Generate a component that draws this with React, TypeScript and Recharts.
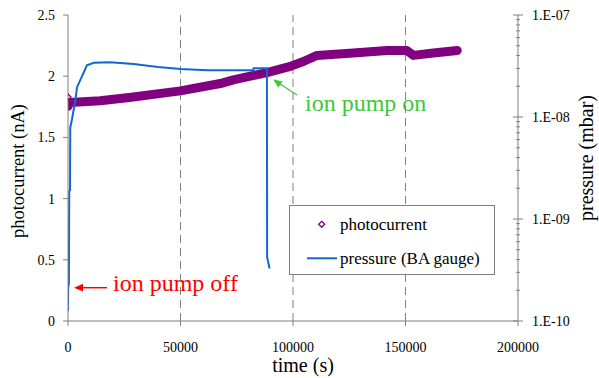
import React from 'react';
import {
  ComposedChart, Line, Scatter, XAxis, YAxis, ReferenceLine, Legend, Customized,
} from 'recharts';

// ---- data ----
const pressureTimes = [0, 100, 400, 550, 900, 1000, 1780, 3240, 4000, 5500, 7000, 8400, 11500, 18600, 29200, 40000, 50000, 61800, 82400, 82500, 88400, 88500, 89600];
const pressureValues = [1.25e-10, 2.17e-10, 2.29e-10, 1.87e-9, 1.92e-9, 7.9e-9, 9.5e-9, 1.45e-8, 1.96e-8, 2.31e-8, 2.73e-8, 3.22e-8, 3.4e-8, 3.45e-8, 3.31e-8, 3.1e-8, 2.96e-8, 2.88e-8, 2.88e-8, 3.01e-8, 3.01e-8, 4.2e-10, 3.27e-10];

const photoTimes = [0, 800, 14350, 29000, 49900, 67700, 73500, 88400, 98800, 104600, 110700, 126800, 141800, 150600, 153500, 162400, 173000];
const photoValues = [1.755, 1.785, 1.8, 1.83, 1.88, 1.94, 1.97, 2.03, 2.08, 2.12, 2.17, 2.19, 2.21, 2.21, 2.17, 2.19, 2.21];

const photoMarkerTimes = [0];
const photoMarkerValues = [1.83];

const timeTicks = [0, 50000, 100000, 150000, 200000];
const gridTimes = [50000, 100000, 150000];
const photoTicks = [0, 0.5, 1, 1.5, 2, 2.5];
const pressureMajorTicks = [1e-10, 1e-9, 1e-8, 1e-7];
const pressureMinorMultipliers = [2, 3, 4, 5, 6, 7, 8, 9];

const pressureData = pressureTimes.map((t, i) => ({ t, p: pressureValues[i] }));
const photoData = photoTimes.map((t, i) => ({ t, v: photoValues[i] }));
const photoMarkers = photoMarkerTimes.map((t, i) => ({ t, v: photoMarkerValues[i] }));
const pressureTicks = [
  ...pressureMajorTicks,
  ...pressureMajorTicks.slice(0, -1).flatMap((d) => pressureMinorMultipliers.map((m) => m * d)),
].sort((a, b) => a - b);

const FONT = "'Times New Roman', Times, 'Liberation Serif', 'DejaVu Serif', serif";
const AXIS = '#808080';
const PURPLE = '#800080';
const BLUE = '#1069D2';
const RED = '#FF0000';
const GREEN = '#3CC83C';

const isMajor = (v: number) => pressureMajorTicks.some((m) => Math.abs(v - m) / m < 1e-6);
const fmtExp = (v: number) => {
  const e = Math.round(Math.log10(v));
  return `1.E${e < 0 ? '-' : '+'}${String(Math.abs(e)).padStart(2, '0')}`;
};

const txt = (size: number, fill = '#000') => ({ fontFamily: FONT, fontSize: size, fill });

const RightTick = (props: any) => {
  const { x, y, payload } = props;
  const v = payload.value;
  const major = isMajor(v);
  const len = major ? 5 : 2;
  return (
    <g>
      <line x1={x - len} x2={x + len} y1={y} y2={y} stroke={AXIS} strokeWidth={1} />
      {major && (
        <text x={x + 14} y={y} dy="0.35em" style={txt(14)} textAnchor="start">
          {fmtExp(v)}
        </text>
      )}
    </g>
  );
};

const Diamond = (props: any) => {
  const { cx, cy } = props;
  if (cx == null || cy == null) return null;
  const s = 3;
  return (
    <polygon
      points={`${cx},${cy - s} ${cx + s},${cy} ${cx},${cy + s} ${cx - s},${cy}`}
      fill="none"
      stroke={PURPLE}
      strokeWidth={1.3}
    />
  );
};

const Annotations = () => (
  <g>
    <text x={24} y={171} transform="rotate(-90, 24, 171)" textAnchor="middle" style={txt(18.5)}>
      photocurrent (nA)
    </text>
    <text x={593} y={158} transform="rotate(-90, 593, 158)" textAnchor="middle" style={txt(20)}>
      pressure (mbar)
    </text>
    <text x={303} y={372} textAnchor="middle" style={txt(20)}>
      time (s)
    </text>
    <line x1={107} y1={287.7} x2={80} y2={287.7} stroke={RED} strokeWidth={1.5} />
    <polygon points="74,287.7 83,283.8 83,291.6" fill={RED} />
    <text x={113} y={291} style={txt(24, RED)}>ion pump off</text>
    <line x1={297} y1={95} x2={277} y2={82} stroke={GREEN} strokeWidth={1.2} />
    <polygon points="273,79.3 282.5,81.5 278.3,87.5" fill={GREEN} />
    <text x={305} y={110.5} style={txt(24, GREEN)}>ion pump on</text>
  </g>
);

const LegendBox = () => (
  <div style={{ width: 206, height: 70, border: `1px solid ${AXIS}`, background: '#fff', boxSizing: 'border-box' }}>
    <svg width={204} height={68} style={{ display: 'block' }}>
      <polygon points="31.7,15.3 34.7,18.3 31.7,21.3 28.7,18.3" fill="none" stroke={PURPLE} strokeWidth={1.3} />
      <text x={50} y={24} style={txt(17)}>photocurrent</text>
      <line x1={17} x2={47} y1={52.3} y2={52.3} stroke={BLUE} strokeWidth={2} />
      <text x={50} y={57.5} style={txt(17)}>pressure (BA gauge)</text>
    </svg>
  </div>
);

export default function App() {
  return (
    <div style={{ position: 'absolute', left: 0, top: 0, width: 599, height: 378, background: '#fff', fontFamily: FONT }}>
      <ComposedChart width={599} height={378} margin={{ top: 15, right: 11, bottom: 17, left: 8 }} style={{ fontFamily: FONT }}>
        <XAxis
          dataKey="t"
          type="number"
          domain={[0, 200000]}
          ticks={timeTicks}
          interval={0}
          allowDataOverflow
          stroke={AXIS}
          tickSize={5}
          tickMargin={16}
          height={40}
          tick={{ fill: '#000', fontFamily: FONT, fontSize: 14, style: { fontFamily: FONT } }}
        />
        <YAxis
          yAxisId="left"
          orientation="left"
          type="number"
          domain={[0, 2.5]}
          ticks={photoTicks}
          interval={0}
          width={60}
          stroke={AXIS}
          tickSize={5}
          tickMargin={8}
          tick={{ fill: '#000', fontFamily: FONT, fontSize: 14, style: { fontFamily: FONT } }}
        />
        <YAxis
          yAxisId="right"
          orientation="right"
          type="number"
          scale="log"
          domain={[1e-10, 1e-7]}
          allowDataOverflow
          ticks={pressureTicks}
          interval={0}
          width={70}
          stroke={AXIS}
          tickLine={false}
          tickSize={0}
          tickMargin={0}
          tick={<RightTick />}
        />
        {gridTimes.map((t) => (
          <ReferenceLine key={t} x={t} yAxisId="left" stroke={AXIS} strokeDasharray="8 5" strokeWidth={1} />
        ))}
        <Line
          yAxisId="left"
          data={photoData}
          dataKey="v"
          type="linear"
          stroke={PURPLE}
          strokeWidth={9}
          strokeLinecap="round"
          strokeLinejoin="round"
          dot={false}
          isAnimationActive={false}
          name="photocurrent"
        />
        <Scatter
          yAxisId="left"
          data={photoMarkers}
          dataKey="v"
          shape={<Diamond />}
          isAnimationActive={false}
          name="photocurrent markers"
          legendType="none"
        />
        <Line
          yAxisId="right"
          data={pressureData}
          dataKey="p"
          type="linear"
          stroke={BLUE}
          strokeWidth={2}
          dot={false}
          isAnimationActive={false}
          name="pressure (BA gauge)"
        />
        <Legend
          layout="vertical"
          align="center"
          verticalAlign="middle"
          content={<LegendBox />}
          wrapperStyle={{ position: 'absolute', left: 289, top: 205, width: 206, height: 70, margin: 0 }}
        />
        <Customized component={<Annotations />} />
      </ComposedChart>
    </div>
  );
}
